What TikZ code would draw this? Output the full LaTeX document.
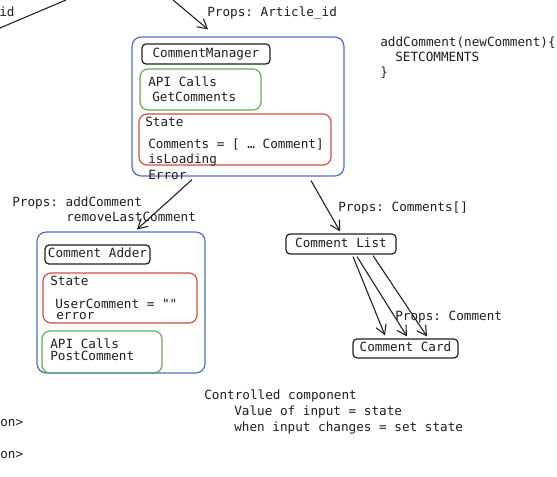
\documentclass[tikz,border=0pt]{standalone}
\usepackage{fontspec}
\setmainfont{DejaVu Sans Mono}
\newfontfamily\plainmono{DejaVu Sans Mono}
\usetikzlibrary{arrows.meta,calc,fit}
\definecolor{cblue}{RGB}{72,112,205}
\definecolor{cred}{RGB}{208,78,66}
\definecolor{cgreen}{RGB}{104,168,86}
\definecolor{ink}{RGB}{30,30,30}
\frenchspacing
\begin{document}
\begin{tikzpicture}[x=0.75pt,y=-0.75pt,
  txt/.style={anchor=west, inner sep=0pt, text height=7pt, text depth=2pt, font=\fontsize{9.5}{11}\selectfont\frenchspacing, text=ink},
  frame/.style={draw, line width=0.9pt, inner sep=0pt},
  bluebox/.style={frame, draw=cblue, rounded corners=7pt},
  redbox/.style={frame, draw=cred, rounded corners=6pt},
  greenbox/.style={frame, draw=cgreen, rounded corners=6pt},
  titlebox/.style={draw=ink, rounded corners=3pt, line width=0.9pt, inner sep=0pt, font=\fontsize{9.5}{11}\selectfont\frenchspacing, text=ink, text height=7pt, text depth=2pt},
  arr/.style={draw=ink, line width=0.8pt, -{Straight Barb[length=7pt,width=8pt]}},
  ln/.style={draw=ink, line width=0.8pt}
]
\useasboundingbox (0,0) rectangle (557,477);

% --- CommentManager ---
\node[bluebox, fit={(132,37) (344,176)}] (cm) {};
\node[titlebox, minimum width=96pt, minimum height=15pt] (cmtitle) at (206,54) {CommentManager};
\node[greenbox, fit={(140,69) (261,110)}] (cmapi) {};
\node[txt] (cmapi1) at (148,83) {API Calls};
\node[txt] (cmapi2) at (152,98) {GetComments};
\node[redbox, fit={(139,114) (331,165)}] (cmstate) {};
\node[txt] (cms1) at (145,123) {State};
\node[txt] (cms2) at (148,145) {Comments = [ … Comment]};
\node[txt] (cms3) at (148,160) {isLoading};
\node[txt] (cms4) at (148,176) {Error};

% --- addComment code ---
\node[txt] (code1) at (380,43) {addComment(newComment)\{};
\node[txt] (code2) at (395,58) {SETCOMMENTS};
\node[txt] (code3) at (380,73) {\}};

% --- top texts ---
\node[txt] (idtxt) at (-1,13) {id};
\node[txt] (propsart) at (207,13) {Props: Article\_id};
\coordinate (l1a) at (0,28);
\coordinate (l1b) at (66,0);
\coordinate (a1s) at (173,0);
\draw[ln] (l1a) -- (l1b);
\draw[arr] (a1s) -- ($(cm.north)+(-30,-7)$);

% --- Comment Adder ---
\node[txt] (pa1) at (12,203) {Props: addComment};
\node[txt] (pa2) at (66,218) {removeLastComment};
\node[bluebox, fit={(37,232) (205,373)}] (adder) {};
\node[titlebox, minimum width=78.75pt, minimum height=14.25pt] (addertitle) at (97.5,254.5) {Comment Adder};
\node[redbox, fit={(43,273) (197,323)}] (adstate) {};
\node[txt] (ads1) at (50,282) {State};
\node[txt] (ads2) at (55,305) {\plainmono UserComment = ""};
\node[txt] (ads3) at (56,316) {error};
\node[greenbox, fit={(42,331) (162,373)}] (adapi) {};
\node[txt] (ada1) at (50,345) {API Calls};
\node[txt] (ada2) at (50,357) {PostComment};

\draw[arr] ($(cm.south)+(-46,3)$) -- ($(adder.north)+(16,-2)$);

% --- Comment List / Card ---
\node[txt] (pc) at (338,208) {Props: Comments[]};
\node[titlebox, minimum width=82.5pt, minimum height=15pt] (list) at (341,244) {Comment List};
\draw[arr] ($(cm.south)+(73,4)$) -- ($(list.north)+(-1,-2)$);
\node[txt] (pcard) at (395,317) {Props: Comment};
\node[titlebox, minimum width=78.75pt, minimum height=14.25pt] (card) at (405.5,348.5) {Comment Card};
\draw[arr] ($(list.south)+(12,2)$) -- ($(card.north)+(-20.5,-3)$);
\draw[arr] ($(list.south)+(16,2)$) -- ($(card.north)+(1.5,-2)$);
\draw[arr] ($(list.south)+(32,1)$) -- ($(card.north)+(21.5,-2)$);

% --- bottom texts ---
\node[txt] (ctrl1) at (204,396) {Controlled component};
\node[txt] (ctrl2) at (234,412) {Value of input = state};
\node[txt] (ctrl3) at (234,428) {when input changes = set state};
\node[txt] (on1) at (0,423) {on>};
\node[txt] (on2) at (0,455) {on>};
\end{tikzpicture}
\end{document}
